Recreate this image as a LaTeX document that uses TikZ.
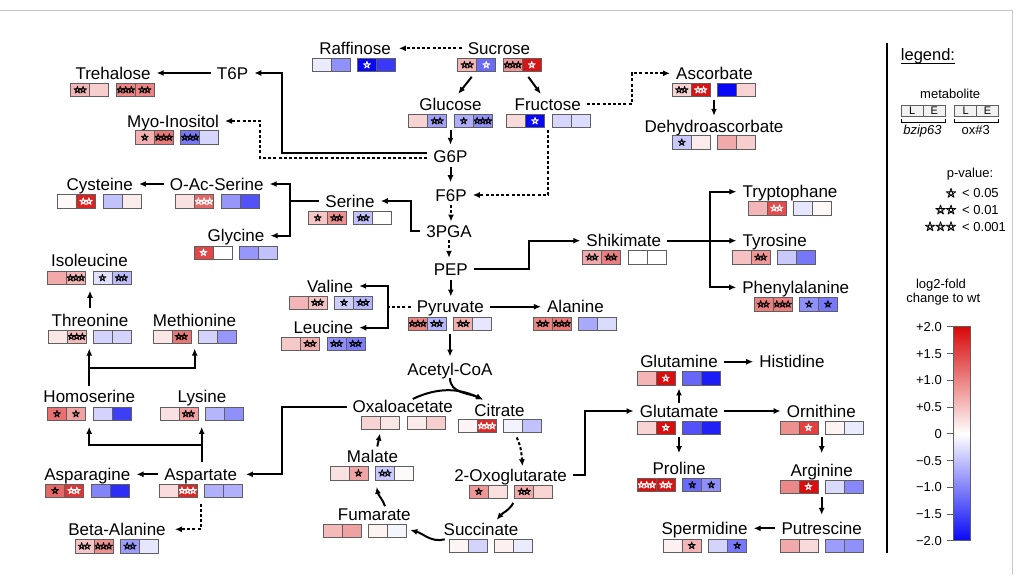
\documentclass[tikz,border=0pt]{standalone}
\usepackage{fontspec}
\setmainfont{Liberation Sans}
\usetikzlibrary{arrows.meta,calc}
\definecolor{R}{RGB}{216,8,8}
\definecolor{B}{RGB}{8,8,245}
\definecolor{cellln}{RGB}{95,95,95}
\colorlet{K}{black}
\colorlet{W}{white}
\newcommand\mcells[4]{%
  \node[grp] (#1) at (#2,#3) {};
  \foreach \cola/\nst/\scol [count=\ix] in {#4}{%
    \pgfmathsetmacro\ox{\ix<3 ? -51.25+19*\ix : -43.75+19*\ix}%
    \pgfmathsetmacro\xl{#2+(\ox)-9.5}%
    \pgfmathsetmacro\xr{#2+(\ox)+9.5}%
    \fill[\cola] (\xl,#3-6.65) rectangle (\xr,#3+6.65);
    \ifnum\nst>0
      \foreach \j in {1,...,\nst}{%
        \pgfmathsetmacro\sx{#2+(\ox)+(\j-(\nst+1)/2)*5.6}%
        \begin{scope}[shift={(\sx,#3)}]
          \draw[\scol,line width=0.7pt,line join=round] (-90:3.8) -- (54:3.8) -- (198:3.8) -- (342:3.8) -- (126:3.8) -- cycle;
        \end{scope}
      }%
    \fi
  }%
  \draw[cellln,line width=0.8pt] (#2-41.75,#3-6.65) rectangle (#2-3.75,#3+6.65)
     (#2-22.75,#3-6.65) -- (#2-22.75,#3+6.65)
     (#2+3.75,#3-6.65) rectangle (#2+41.75,#3+6.65)
     (#2+22.75,#3-6.65) -- (#2+22.75,#3+6.65);
}
\newcommand\lstar[2]{%
  \begin{scope}[shift={(#1,#2)}]
    \draw[line width=0.8pt,line join=round] (-90:5) -- (54:5) -- (198:5) -- (342:5) -- (126:5) -- cycle;
  \end{scope}}
\begin{document}
\begin{tikzpicture}[x=1pt,y=-1pt,
  lab/.style={font=\fontsize{17}{20}\selectfont,inner xsep=6pt,inner ysep=1.5pt,text height=12.2pt,text depth=0pt},
  grp/.style={minimum width=83.5pt,minimum height=13.3pt,inner sep=0pt},
  ln/.style={line width=2pt},
  conn/.style={line width=2pt,-{Latex[length=7pt,width=6pt]}},
  dsh/.style={dash pattern=on 3pt off 2.2pt},
  legtxt/.style={font=\fontsize{13}{15}\selectfont,inner sep=0pt,text height=9.3pt,text depth=0pt}]
\fill[white] (0,0) rectangle (1024,575);
\useasboundingbox (0,0) rectangle (1024,575);
\draw[gray!45,line width=0.7pt] (0,10.5) -- (1012,10.5) -- (1012,575);

% ---------- labels ----------
\node[lab] (raf) at (355,48.3) {Raffinose};
\node[lab] (suc) at (499,48.3) {Sucrose};
\node[lab] (glu) at (450.5,104) {Glucose};
\node[lab] (fru) at (547.7,104) {Fructose};
\node[lab] (t6p) at (232.5,73) {T6P};
\node[lab] (tre) at (113,73) {Trehalose};
\node[lab] (myo) at (173,121) {Myo-Inositol};
\node[lab] (g6p) at (450.5,156) {G6P};
\node[lab] (f6p) at (451,195) {F6P};
\node[lab] (asc) at (714.5,73.3) {Ascorbate};
\node[lab] (dha) at (714,126) {Dehydroascorbate};
\node[lab] (cys) at (99.7,184) {Cysteine};
\node[lab] (oas) at (216.7,184) {O-Ac-Serine};
\node[lab] (ser) at (350,201) {Serine};
\node[lab] (gly) at (236,235.7) {Glycine};
\node[lab] (pga) at (449,231) {3PGA};
\node[lab] (pep) at (450.8,269.3) {PEP};
\node[lab] (shi) at (623.8,240.7) {Shikimate};
\node[lab] (trp) at (790,191.7) {Tryptophane};
\node[lab] (tyr) at (774.7,240.7) {Tyrosine};
\node[lab] (phe) at (795.8,287.3) {Phenylalanine};
\node[lab] (ile) at (89.5,260.7) {Isoleucine};
\node[lab] (thr) at (90,320) {Threonine};
\node[lab] (met) at (194.5,320) {Methionine};
\node[lab] (val) at (330,286) {Valine};
\node[lab] (leu) at (323.3,327.7) {Leucine};
\node[lab] (pyr) at (450.3,306.7) {Pyruvate};
\node[lab] (ala) at (575.5,306.7) {Alanine};
\node[lab] (aco) at (450,369.3) {Acetyl-CoA};
\node[lab] (hse) at (89.3,396.7) {Homoserine};
\node[lab] (lys) at (202,396.7) {Lysine};
\node[lab] (asn) at (87.3,474.3) {Asparagine};
\node[lab] (asp) at (200.7,474.3) {Aspartate};
\node[lab] (bal) at (117,529.3) {Beta-Alanine};
\node[lab] (oaa) at (402.8,406.7) {Oxaloacetate};
\node[lab] (cit) at (499.5,410) {Citrate};
\node[lab] (mal) at (372.5,456.7) {Malate};
\node[lab] (fum) at (374.3,514) {Fumarate};
\node[lab] (ogl) at (510.5,475) {2-Oxoglutarate};
\node[lab] (sca) at (481,529) {Succinate};
\node[lab] (gln) at (679,361.7) {Glutamine};
\node[lab] (his) at (792,361.7) {Histidine};
\node[lab] (glt) at (679,411) {Glutamate};
\node[lab] (pro) at (679,468.3) {Proline};
\node[lab] (orn) at (821.3,411) {Ornithine};
\node[lab] (arg) at (821.7,470) {Arginine};
\node[lab] (put) at (821.7,528.3) {Putrescine};
\node[lab] (spd) at (704.5,528.3) {Spermidine};

% ---------- cells ----------
\mcells{raf-b}{353.7}{65}{B!8/0/K,B!45/0/K,B!100/1/W,B!80/0/K}
\mcells{suc-b}{499.5}{65}{R!30/2/K,B!60/1/W,R!42/3/K,R!95/1/W}
\mcells{glu-b}{450.5}{121}{R!18/0/K,B!38/2/K,B!33/1/K,B!45/3/K}
\mcells{fru-b}{548.3}{121}{R!15/0/K,B!100/1/W,B!17/0/K,B!14/0/K}
\mcells{tre-b}{112.5}{90}{R!30/2/K,R!20/0/K,R!50/3/K,R!50/2/K}
\mcells{myo-b}{177}{137.5}{R!32/1/K,R!55/3/K,B!55/3/K,B!17/0/K}
\mcells{asc-b}{714}{90}{R!18/2/K,R!95/2/W,B!100/0/K,R!18/0/K}
\mcells{dha-b}{714}{142.5}{B!22/1/K,R!8/0/K,R!35/0/K,R!20/0/K}
\mcells{cys-b}{99.3}{201.5}{R!3/0/K,R!90/2/W,B!25/0/K,R!8/0/K}
\mcells{oas-b}{217.3}{201.5}{R!12/0/K,R!62/3/W,B!42/0/K,B!70/0/K}
\mcells{ser-b}{350}{218}{R!23/1/K,R!45/2/K,B!25/2/K,white/0/K}
\mcells{gly-b}{235.7}{252.7}{R!75/1/W,white/0/K,B!42/0/K,B!25/0/K}
\mcells{shi-b}{624.3}{257.3}{R!35/2/K,R!52/2/K,white/0/K,white/0/K}
\mcells{trp-b}{790}{208.3}{R!30/0/K,R!72/2/W,B!10/0/K,R!3/0/K}
\mcells{tyr-b}{774}{257.3}{R!25/0/K,R!42/2/K,B!22/0/K,B!55/0/K}
\mcells{phe-b}{795.7}{304.3}{R!52/2/K,R!52/3/K,B!45/1/K,B!55/1/K}
\mcells{ile-b}{89.2}{278}{R!35/0/K,R!30/3/K,B!12/1/K,B!27/2/K}
\mcells{thr-b}{90}{336.7}{R!10/0/K,R!28/3/K,B!18/0/K,B!18/0/K}
\mcells{met-b}{194.7}{336.7}{R!10/0/K,R!55/2/K,B!18/0/K,B!42/0/K}
\mcells{val-b}{330.8}{302.7}{R!30/0/K,R!25/2/K,B!20/1/K,B!30/2/K}
\mcells{leu-b}{323.3}{343.7}{R!22/0/K,R!33/2/K,B!45/2/K,B!52/2/K}
\mcells{pyr-b}{450}{323.7}{R!50/3/K,B!30/2/K,R!33/2/K,B!10/0/K}
\mcells{ala-b}{575}{323.7}{R!50/2/K,R!55/3/K,B!35/0/K,B!15/0/K}
\mcells{hse-b}{89.2}{414}{R!58/1/K,R!38/1/K,B!18/0/K,B!78/0/K}
\mcells{lys-b}{201.7}{414}{R!12/0/K,R!38/2/K,B!30/0/K,B!45/0/K}
\mcells{asn-b}{87.3}{490.7}{R!62/1/K,R!82/2/W,B!50/0/K,B!85/0/K}
\mcells{asp-b}{200.8}{490.7}{R!14/0/K,R!87/3/W,B!32/0/K,B!32/0/K}
\mcells{bal-b}{116.7}{546.3}{R!24/2/K,R!45/3/K,B!40/2/K,B!10/0/K}
\mcells{oaa-b}{403.3}{422.7}{R!18/0/K,R!10/0/K,R!8/0/K,R!20/0/K}
\mcells{cit-b}{500}{426}{R!4/0/K,R!87/3/W,B!5/0/K,B!25/0/K}
\mcells{mal-b}{371.7}{473.3}{R!12/0/K,R!37/1/K,B!22/2/K,R!2/0/K}
\mcells{fum-b}{365}{530.7}{R!28/0/K,R!38/0/K,R!5/0/K,B!4/0/K}
\mcells{ogl-b}{511}{491.7}{R!42/1/K,R!13/0/K,R!35/2/K,R!18/0/K}
\mcells{sca-b}{491}{545.7}{R!4/0/K,B!18/0/K,R!6/0/K,B!8/0/K}
\mcells{gln-b}{679}{378.3}{R!30/0/K,R!97/1/W,B!62/0/K,B!92/0/K}
\mcells{glt-b}{679}{427.7}{R!18/0/K,R!97/1/W,B!70/0/K,B!90/0/K}
\mcells{pro-b}{679}{485}{R!97/3/W,R!95/2/W,B!60/1/K,B!45/1/K}
\mcells{orn-b}{821.7}{427.7}{R!45/0/K,R!77/1/W,R!5/0/K,B!8/0/K}
\mcells{arg-b}{821.7}{486.7}{R!48/0/K,R!97/1/W,B!15/0/K,B!48/0/K}
\mcells{put-b}{821.7}{545.7}{R!35/0/K,R!15/0/K,B!40/0/K,B!45/0/K}
\mcells{spd-b}{705}{545.7}{R!6/0/K,R!30/1/K,B!18/0/K,B!55/1/K}

% ---------- connectors ----------
\draw[conn,dsh,shorten >=2pt] (suc) -- (raf);
\draw[conn] ($(suc-b.south)+(-27.8,5)$) -- ($(glu.north)+(7.8,-2.4)$);
\draw[conn] ($(suc-b.south)+(28.8,5)$) -- ($(fru.north)+(-7,-2.4)$);
\draw[conn] (t6p) -- (tre);
\draw[conn,shorten <=2.4pt,shorten >=3.4pt] (glu-b.south) -- (glu-b.south |- g6p.north);
\draw[conn,shorten <=3pt,shorten >=5pt] (g6p.south) -- (g6p.south |- f6p.north);
\draw[conn,dsh,shorten <=2.4pt,shorten >=1.7pt] (f6p.south) -- (f6p.south |- pga.north);
\draw[conn,dsh,shorten <=1.4pt,shorten >=3.7pt] (pga.south) -- (pga.south |- pep.north);
\draw[conn,shorten <=3pt,shorten >=2.4pt] (pep.south) -- (pep.south |- pyr.north);
\draw[conn,shorten <=3pt,shorten >=5pt] (pyr-b.south) -- (pyr-b.south |- aco.north);
\draw[conn] ($(g6p.west)+(0,-2.7)$) -| ($(t6p.east)+(27.4,0)$) -- (t6p.east);
\draw[conn,dsh] ($(g6p.west)+(0,1.7)$) -| ($(myo.east)+(35,0)$) -- (myo.east);
\draw[conn,dsh] (fru.east) -| ($(asc.west)+(-38,0)$) -- (asc.west);
\draw[conn,dsh,shorten <=2pt] (fru-b.south) |- (f6p.east);
\draw[conn,shorten <=3.3pt,shorten >=2.4pt] (asc-b.south) -- (asc-b.south |- dha.north);
\draw[conn] (pga.west) -| ($(ser.east)+(30.7,0)$) -- (ser.east);
\draw[ln] (ser.west) -- ++(-29,0) coordinate (serj);
\draw[conn] (serj) |- (oas.east);
\draw[conn] (serj) |- (gly.east);
\draw[conn] (oas) -- (cys);
\draw[conn,shorten <=4.4pt,shorten >=6pt] (thr.north) -- (thr.north |- ile-b.south);
\draw[conn,shorten <=3pt,shorten >=5pt] (hse.north) -- (hse.north |- thr-b.south);
\draw[conn,shorten >=5pt] ($(hse.north)+(0,-21)$) -| (met-b.south);
\draw[conn,shorten <=5pt,shorten >=6pt] (asp.north -| lys-b.south) -- (lys-b.south);
\draw[conn,shorten >=6pt] ($(asp.north -| lys-b.south)+(0,-21.7)$) -| (hse-b.south);
\draw[conn] (asp) -- (asn);
\draw[conn,dsh,shorten <=6pt,shorten >=3pt] (asp-b.south) |- (bal.east);
\draw[conn,shorten >=2.7pt] (oaa.west) -| ($(asp.east)+(39,0)$) -- (asp.east);
\draw[ln,dsh] (pyr.west) -- ++(-22.7,0) coordinate (pyrj);
\draw[conn] (pyrj) |- (val.east);
\draw[conn] (pyrj) |- (leu.east);
\draw[conn] (pyr) -- (ala);
\draw[conn] (pep.east) -| ($(shi.west)+(-51,0)$) -- (shi.west);
\coordinate (shij) at ($(shi.east)+(43,0)$);
\draw[conn] (shi) -- (tyr);
\draw[conn] (shij) |- (trp.west);
\draw[conn] (shij) |- (phe.west);
% TCA cycle
\coordinate (citin) at ($(cit.north west)+(14.8,-2.6)$);
\draw[conn] ($(oaa.north)+(10,0)$) to[out=25,in=155] (citin);
\draw[conn] ($(aco.south)+(0,1)$) to[out=-90,in=155] (citin);
\draw[conn,dsh] ($(cit-b.south)+(16.7,4.6)$) to[out=-65,in=95] ($(ogl.north)+(12,-1)$);
\draw[conn] ($(ogl-b.south)+(2.3,4.4)$) to[out=-120,in=50] ($(sca.north)+(15.7,-1.4)$);
\draw[conn] ($(sca-b.west)+(-4.3,-6.4)$) to[out=195,in=-15] ($(fum-b.east)+(3.3,-0.7)$);
\draw[conn] ($(fum.north)+(10.7,0)$) to[out=110,in=-80] ($(mal-b.south)+(5,6.7)$);
\draw[conn] ($(mal.north)+(4.8,-2.4)$) -- ($(oaa-b.south)+(-23.3,4)$);
\draw[conn] (ogl.east) -| ($(glt.west)+(-48.3,0)$) -- (glt.west);
\draw[conn,shorten >=3.3pt] (glt.north) -- (glt.north |- gln-b.south);
\draw[conn,shorten <=2.3pt,shorten >=7.4pt] (glt-b.south) -- (glt-b.south |- pro.north);
\draw[conn,shorten <=2.3pt,shorten >=9pt] (orn-b.south) -- (orn-b.south |- arg.north);
\draw[conn,shorten <=3.3pt,shorten >=5.7pt] (arg-b.south) -- (arg-b.south |- put.north);
\draw[conn] (gln) -- (his);
\draw[conn] (glt) -- (orn);
\draw[conn] (put) -- (spd);

% ---------- legend ----------
\draw[line width=1.8pt] (887.3,43.3) -- (887.3,553.3);
\node[inner sep=0pt,font=\fontsize{16.5}{19}\selectfont,text height=11.8pt,text depth=0pt] (legt) at (928,55) {legend:};
\draw[line width=0.8pt] ($(legt.south west)+(0,2.4)$) -- ($(legt.south east)+(0,2.4)$);
\node[legtxt] (legm) at (950.2,94.3) {metabolite};
\foreach \px [count=\q] in {923.2,976.6}{%
  \draw[cellln,line width=0.7pt,fill=gray!10] (\px-22,105.5) rectangle (\px+22,116.5) (\px,105.5) -- (\px,116.5);
  \node[inner sep=0pt,font=\fontsize{11}{13}\selectfont,text height=7.9pt,text depth=0pt] (legL\q) at (\px-11,111) {L};
  \node[inner sep=0pt,font=\fontsize{11}{13}\selectfont,text height=7.9pt,text depth=0pt] (legE\q) at (\px+11,111) {E};
  \draw[line width=0.6pt] (\px-22,119.3) -- (\px-22,122) -- (\px+22,122) -- (\px+22,119.3);
}
\node[legtxt,font=\fontsize{13}{15}\selectfont\itshape] (legbz) at (922.5,130) {bzip63};
\node[legtxt] (legox) at (975.8,130) {ox\#3};
\node[legtxt] (legp) at (970,173.3) {p-value:};
\lstar{951}{193.3}
\lstar{951}{210}\lstar{940.5}{210}
\lstar{951}{226.7}\lstar{940.5}{226.7}\lstar{930}{226.7}
\node[legtxt,anchor=west] (legp1) at (962,193.3) {< 0.05};
\node[legtxt,anchor=west] (legp2) at (962,210) {< 0.01};
\node[legtxt,anchor=west] (legp3) at (962,226.7) {< 0.001};
\node[legtxt] (legl1) at (941,283.5) {log2-fold};
\node[legtxt] (legl2) at (943.3,297.5) {change to wt};
\shade[top color=R,bottom color=white] (953.3,326.7) rectangle (970.7,433.7);
\shade[top color=white,bottom color=B] (953.3,433.7) rectangle (970.7,540.7);
\draw[cellln,line width=0.7pt] (953.3,326.7) rectangle (970.7,540.7);
\foreach \tl/\yy [count=\q] in {+2.0/326.7,+1.5/353.45,+1.0/380.2,+0.5/406.95,0/433.7,−0.5/460.45,−1.0/487.2,−1.5/513.95,−2.0/540.7}{%
  \draw[cellln,line width=0.7pt] (946.7,\yy) -- (953.3,\yy);
  \node[legtxt,anchor=east] (tick\q) at (942,\yy) {\tl};
}
\end{tikzpicture}
\end{document}
